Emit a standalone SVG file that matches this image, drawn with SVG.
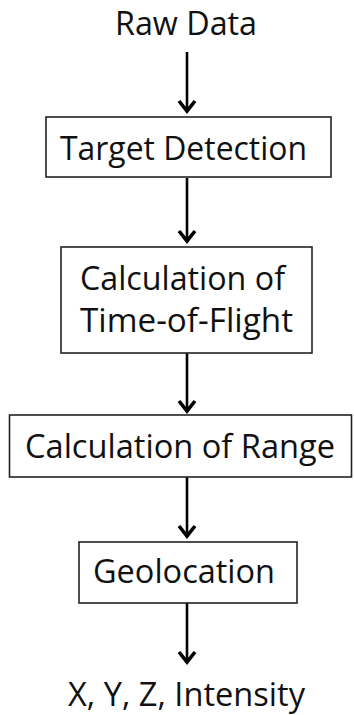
<svg xmlns="http://www.w3.org/2000/svg" width="354" height="715" viewBox="0 0 354 715">
<style>
text{font-family:"Open Sans","Liberation Sans",sans-serif;font-size:32px;fill:#111}
.box{fill:#fff;stroke:#222;stroke-width:1.6}
.conn{stroke:#000;stroke-width:2.6;fill:none}
.head{stroke:#000;stroke-width:3.6;fill:none;stroke-linejoin:miter}
</style>
<rect width="354" height="715" fill="#fff"/>
<g id="connectors">
<line class="conn" x1="187" y1="52" x2="187" y2="112"/>
<line class="conn" x1="187" y1="178" x2="187" y2="242"/>
<line class="conn" x1="187" y1="353" x2="187" y2="412"/>
<line class="conn" x1="187" y1="477" x2="187" y2="537"/>
<line class="conn" x1="187" y1="603" x2="187" y2="663"/>
<path class="head" d="M179,101 L187,111 L195,101"/>
<path class="head" d="M179,231 L187,241 L195,231"/>
<path class="head" d="M179,401 L187,411 L195,401"/>
<path class="head" d="M179,526 L187,536 L195,526"/>
<path class="head" d="M179,652 L187,662 L195,652"/>
</g>
<g id="raw"><text x="115" y="35" textLength="142" lengthAdjust="spacingAndGlyphs">Raw Data</text></g>
<g id="target"><rect class="box" x="46" y="117" width="285" height="60"/><text x="60" y="160" textLength="247" lengthAdjust="spacingAndGlyphs">Target Detection</text></g>
<g id="tof"><rect class="box" x="61" y="247" width="251" height="106"/><text x="80" y="290" textLength="205" lengthAdjust="spacingAndGlyphs">Calculation of</text><text x="80" y="332" textLength="213" lengthAdjust="spacingAndGlyphs">Time-of-Flight</text></g>
<g id="range"><rect class="box" x="9.5" y="415" width="342" height="62"/><text x="25" y="458" textLength="310" lengthAdjust="spacingAndGlyphs">Calculation of Range</text></g>
<g id="geo"><rect class="box" x="79" y="542" width="218" height="61"/><text x="93" y="583" textLength="182" lengthAdjust="spacingAndGlyphs">Geolocation</text></g>
<g id="out"><text x="68" y="706" textLength="237" lengthAdjust="spacingAndGlyphs">X, Y, Z, Intensity</text></g>
</svg>
